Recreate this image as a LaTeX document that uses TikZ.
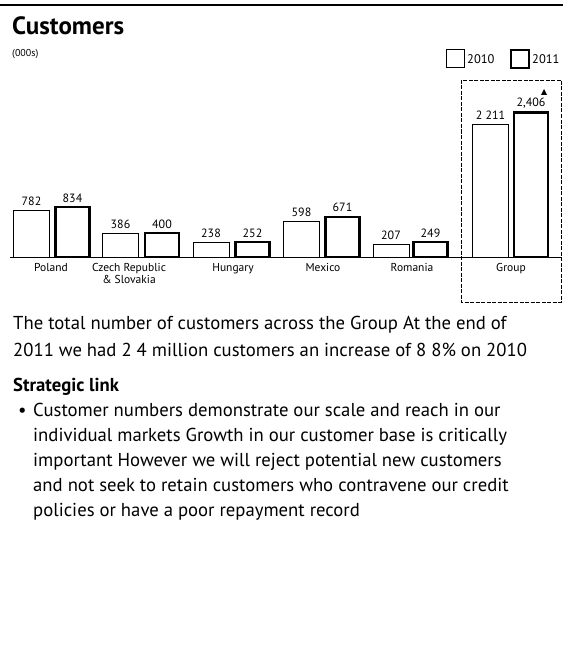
\documentclass[tikz,border=0pt]{standalone}
\usepackage{fontspec}
\setmainfont{PT Sans}
\usetikzlibrary{positioning}

\begin{document}
\begin{tikzpicture}[x=1pt, y=-1pt,
  bar10/.style={draw=black, line width=0.9pt, fill=white, inner sep=0pt, outer sep=0pt, minimum width=36pt, anchor=south},
  bar11/.style={bar10, line width=2.2pt, minimum width=34pt},
  value/.style={font=\fontsize{12}{12}\selectfont, inner sep=0pt},
  country/.style={font=\fontsize{11.5}{12}\selectfont, align=center, inner sep=0pt, anchor=north},
  legbox/.style={draw=black, line width=1pt, minimum size=18pt, inner sep=0pt},
  legtext/.style={font=\fontsize{12.5}{12.5}\selectfont, inner sep=0pt, anchor=west},
  body/.style={font=\fontsize{18.7}{27}\selectfont, align=left, anchor=base west, inner sep=0pt}
]
  \useasboundingbox (0,0) rectangle (563,658);

  % Header
  \draw[line width=1.4pt] (0,5) -- (563,5);
  \node[font=\fontsize{25}{25}\selectfont\bfseries, anchor=base west, inner sep=0pt] (title) at (12,35) {Customers};
  \node[font=\fontsize{10}{10}\selectfont, anchor=base west, inner sep=0pt] (unit) at (12,57) {(000s)};

  % Legend
  \node[legbox] (key10) at (455.5,59) {};
  \node[legtext] (lab10) at (467,59) {2010};
  \node[legbox, line width=2pt] (key11) at (520,59) {};
  \node[legtext] (lab11) at (532,59) {2011};

  % Group frame and axis
  \draw[dash pattern=on 4pt off 1.5pt, line width=0.6pt] (461,80) rectangle (561,302);
  \draw[line width=0.8pt] (10,257) -- (561,257);

  % Bars
  \node[bar10, minimum height=46.9pt] (pl10) at (31.5,257) {};
  \node[bar11, minimum height=50.0pt] (pl11) at (72.5,257) {};
  \node[bar10, minimum height=23.2pt] (cz10) at (120.5,257) {};
  \node[bar11, minimum height=24.0pt] (cz11) at (162,257) {};
  \node[bar10, minimum height=14.3pt] (hu10) at (211,257) {};
  \node[bar11, minimum height=15.1pt] (hu11) at (252.5,257) {};
  \node[bar10, minimum height=35.9pt] (mx10) at (301.5,257) {};
  \node[bar11, minimum height=40.3pt] (mx11) at (342.5,257) {};
  \node[bar10, minimum height=12.4pt] (ro10) at (391,257) {};
  \node[bar11, minimum height=14.9pt] (ro11) at (430.5,257) {};
  \node[bar10, minimum height=132.7pt] (gr10) at (490.5,257) {};
  \node[bar11, minimum height=144.4pt] (gr11) at (531,257) {};

  % Values
  \node[value, above=4.5pt of pl10] (vpl10) {782};
  \node[value, above=4.5pt of pl11] (vpl11) {834};
  \node[value, above=4.5pt of cz10] (vcz10) {386};
  \node[value, above=4.5pt of cz11] (vcz11) {400};
  \node[value, above=4.5pt of hu10] (vhu10) {238};
  \node[value, above=4.5pt of hu11] (vhu11) {252};
  \node[value, above=4.5pt of mx10] (vmx10) {598};
  \node[value, above=4.5pt of mx11] (vmx11) {671};
  \node[value, above=4.5pt of ro10] (vro10) {207};
  \node[value, above=4.5pt of ro11] (vro11) {249};
  \node[value, above=4.5pt of gr10] (vgr10) {2 211};
  \node[value, above=4.5pt of gr11] (vgr11) {2,406};
  \fill (541,95) -- (547,95) -- (544,89) -- cycle;

  % Countries
  \node[country] (cpl) at (51,263) {Poland};
  \node[country] (ccz) at (129,263) {Czech Republic\\\& Slovakia};
  \node[country] (chu) at (233,263) {Hungary};
  \node[country] (cmx) at (323,263) {Mexico};
  \node[country] (cro) at (412,263) {Romania};
  \node[country] (cgr) at (511,263) {Group};

  % Text (base anchor sits on the last line)
  \node[body] (intro) at (13,356) {The total number of customers across the Group  At the end of\\2011 we had 2 4 million customers  an increase of 8 8\% on 2010};
  \node[body, font=\fontsize{18.7}{25}\selectfont\bfseries] (head) at (13,391) {Strategic link};
  \node[body] (dot) at (18,416) {•};
  \node[body, font=\fontsize{18.7}{25}\selectfont] (link) at (33,516) {Customer numbers demonstrate our scale and reach in our\\individual markets  Growth in our customer base is critically\\important  However  we will reject potential new customers\\and not seek to retain customers who contravene our credit\\policies or have a poor repayment record};
\end{tikzpicture}
\end{document}
